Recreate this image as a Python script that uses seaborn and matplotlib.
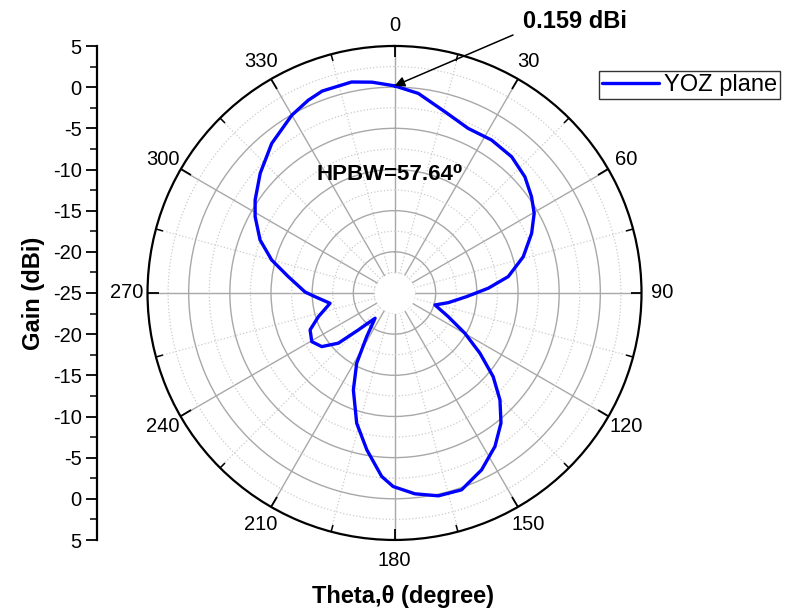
import numpy as np
import pandas as pd
import matplotlib
matplotlib.use("Agg")
import matplotlib.pyplot as plt
from matplotlib.ticker import FixedLocator, MultipleLocator, FuncFormatter
import seaborn as sns

# Radiation pattern, YOZ plane (theta in degrees, gain in dBi)
theta_deg = [0, 6.8, 15.6, 24.1, 32.4, 40.7, 48.3, 54.9, 60.3, 66.5, 74.3, 81.8,
             87.1, 92.9, 100.2, 106.5, 113.8, 119.8, 125.2, 130.3, 135.4, 140.7,
             146.8, 153.8, 161.2, 167.8, 174.2, 180.4, 184.0, 190.0, 196.2, 203.0,
             208.3, 212.5, 217.6, 224.4, 228.2, 233.6, 239.5, 246.4, 252.7, 260.9,
             267.3, 270.6, 278.7, 285.0, 291.5, 298.7, 303.7, 311.7, 320.6, 330.0,
             335.9, 340.3, 348.5, 353.9]
gain_dbi = [0.159, -0.59, -2.16, -3.10, -3.00, -3.18, -3.79, -4.66, -5.47, -6.84,
            -8.76, -11.04, -13.6, -16.23, -18.36, -19.87, -17.86, -15.15, -12.30,
            -9.29, -6.76, -4.58, -2.72, -1.05, 0.26, 0.21, -0.48, -1.49, -2.66,
            -5.65, -8.53, -12.21, -15.31, -18.71, -21.13, -18.71, -15.85, -14.02,
            -13.34, -13.81, -15.32, -17.07, -15.34, -14.14, -11.96, -9.56, -7.45,
            -5.70, -4.65, -3.15, -1.50, -0.06, 0.65, 1.05, 1.15, 0.75]

theta_ticks = list(range(0, 360, 30))
series_name = "YOZ plane"
peak_label = "0.159 dBi"
hpbw_label = "HPBW=57.64\u2070"

sns.set_style("white")
plt.rcParams["font.family"] = ["Liberation Sans", "DejaVu Sans"]
plt.rcParams.update({"text.color": "black", "axes.labelcolor": "black",
                     "xtick.color": "black", "ytick.color": "black"})

fig = plt.figure(figsize=(7.91, 6.16), dpi=100)

r_min, r_max = -25, 5
ax = fig.add_axes([0.1865, 0.1234, 0.6245, 0.802], projection="polar")
ax.set_theta_zero_location("N")
ax.set_theta_direction(-1)
ax.set_ylim(r_min, r_max)

# angular grid: labelled spokes every 30 deg, dotted ones in between
ax.set_xticks(np.deg2rad(theta_ticks))
ax.set_xticklabels([str(t) for t in theta_ticks], fontsize=14.5)
ax.xaxis.set_minor_locator(FixedLocator(np.deg2rad(np.arange(15, 360, 30))))
ax.tick_params(axis="x", which="both", bottom=True, top=True)
ax.tick_params(axis="x", which="major", direction="in", length=8, width=1.3,
               pad=8, colors="black")
ax.tick_params(axis="x", which="minor", direction="in", length=5, width=1.1)

# radial grid: solid every 5 dB, dotted at the half steps
ax.set_yticks([-20, -15, -10, -5, 0])
ax.yaxis.set_minor_locator(FixedLocator([-22.5, -17.5, -12.5, -7.5, -2.5, 2.5]))
ax.set_yticklabels([])
ax.tick_params(axis="y", which="both", length=0)
ax.grid(which="major", color="#a8a8a8", lw=1.0, ls="-")
ax.grid(which="minor", color="#cccccc", lw=0.9, ls=":")
ax.spines["polar"].set_color("black")
ax.spines["polar"].set_linewidth(1.6)

# empty hub in the middle of the pattern
ring = np.linspace(0, 2 * np.pi, 361)
ax.fill_between(ring, r_min, -22.55, color="white", zorder=2, lw=0)

df = pd.DataFrame({
    "theta": np.deg2rad(np.append(theta_deg, 360.0)),
    "gain": np.append(gain_dbi, gain_dbi[0]),
})
sns.lineplot(data=df, x="theta", y="gain", ax=ax, color="#0000ff", lw=2.4,
             sort=False, estimator=None, label=series_name, legend=False, zorder=3)
ax.set_xlabel("")
ax.set_ylabel("")

# peak annotation at theta = 0
ax.annotate("", xy=(0.0, gain_dbi[0]), xycoords="data",
            xytext=(513, 616 - 35), textcoords="figure pixels",
            arrowprops=dict(arrowstyle="-|>", color="black", lw=1.1,
                            mutation_scale=15, shrinkA=0, shrinkB=0),
            zorder=5)
fig.text(523 / 791, 1 - 21 / 616, peak_label, fontsize=17, fontweight="bold",
         ha="left", va="center")

fig.text(390 / 791, 1 - 174 / 616, hpbw_label, fontsize=16, fontweight="bold",
         ha="center", va="center")

# linear gain scale along the left, mirrored about the centre
axg = fig.add_axes([97 / 791, 76 / 616, 0.001, 494 / 616])
axg.set_ylim(-30, 30)
axg.set_xticks([])
for s in ("top", "right", "bottom"):
    axg.spines[s].set_visible(False)
axg.spines["left"].set_color("black")
axg.spines["left"].set_linewidth(1.6)
axg.patch.set_alpha(0)
axg.yaxis.set_major_locator(MultipleLocator(5))
axg.yaxis.set_minor_locator(MultipleLocator(2.5))
axg.yaxis.set_major_formatter(FuncFormatter(lambda p, _: f"{abs(p) + r_min:g}"))
axg.tick_params(axis="y", which="both", left=True)
axg.tick_params(axis="y", which="major", direction="out", length=8, width=1.3,
                labelsize=14.5, pad=3, colors="black")
axg.tick_params(axis="y", which="minor", direction="out", length=5, width=1.1)
axg.set_ylabel("Gain (dBi)", fontsize=17, fontweight="bold", labelpad=6)

fig.text(403 / 791, 1 - 597 / 616, "Theta,\u03b8 (degree)", fontsize=17,
         fontweight="bold", ha="center", va="center")

handles, labels = ax.get_legend_handles_labels()
leg = fig.legend(handles, labels, loc="upper left",
                 bbox_to_anchor=(599 / 791, 1 - 71 / 616), fontsize=17,
                 frameon=True, fancybox=False, edgecolor="black",
                 borderpad=0.12, handlelength=2.4, handletextpad=0.25,
                 borderaxespad=0)
leg.get_frame().set_linewidth(1.0)

fig.savefig("out.png", dpi=100)
